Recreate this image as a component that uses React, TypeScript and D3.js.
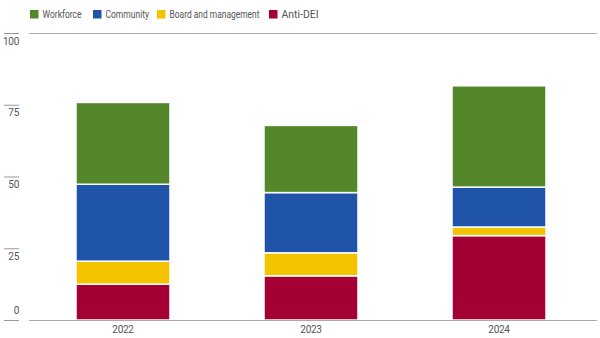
import React from "react";
import * as d3 from "d3";

const years = ["2022", "2023", "2024"];
const seriesNames = ["Anti-DEI", "Board and management", "Community", "Workforce"];
const antiDEI = [12.5, 15.4, 29.4];
const board = [8, 8, 3];
const community = [26.8, 21, 13.9];
const workforce = [28.5, 23.4, 35.3];
const legendOrder = ["Workforce", "Community", "Board and management", "Anti-DEI"];
const colors: Record<string, string> = {
  Workforce: "#53872a",
  Community: "#1f54a9",
  "Board and management": "#f3c300",
  "Anti-DEI": "#a30034",
};
const yTicks = [0, 25, 50, 75, 100];

const W = 600;
const H = 338;
const FONT = "Roboto, 'Liberation Sans', sans-serif";
const legendX = [30, 93, 157, 269];
const legendTextW = [39, 43.5, 90, 37];

export default function App() {
  const rows = years.map((y, i) => ({
    year: y,
    "Anti-DEI": antiDEI[i],
    "Board and management": board[i],
    Community: community[i],
    Workforce: workforce[i],
  }));
  const stack = d3.stack<any>().keys(seriesNames);
  const series = stack(rows);

  const x = d3.scaleBand().domain(years).range([29, 593]).paddingInner(0.5).paddingOuter(0.25);
  const y = d3.scaleLinear().domain([0, 100]).range([320, 33]);

  return (
    <svg width={W} height={H} style={{ position: "absolute", left: 0, top: 0, background: "#fff" }} fontFamily={FONT}>
      {legendOrder.map((name, i) => (
        <g key={name} transform={`translate(${legendX[i]},10)`}>
          <rect width={8.5} height={8.5} fill={colors[name]} />
          <text x={12.5} y={8} fontSize={10.5} fill="#555" textLength={legendTextW[i]} lengthAdjust="spacingAndGlyphs">{name}</text>
        </g>
      ))}
      {yTicks.map((t) => (
        <g key={t}>
          <line x1={4} x2={19} y1={y(t) + 0.5} y2={y(t) + 0.5} stroke="#999" strokeWidth={1} />
          <text x={19} y={t === 0 ? y(t) - 6 : y(t) + 11.5} textAnchor="end" fontSize={10} fill="#555" letterSpacing={-0.3}>{t}</text>
        </g>
      ))}
      <line x1={29} x2={597} y1={y(100) + 0.5} y2={y(100) + 0.5} stroke="#aaa" strokeWidth={1} />
      {series.map((s) => (
        <g key={s.key} fill={colors[s.key]}>
          {s.map((d: any) => (
            <rect
              key={d.data.year}
              x={x(d.data.year)}
              width={x.bandwidth()}
              y={y(d[1])}
              height={y(d[0]) - y(d[1])}
              stroke="#fff"
              strokeWidth={1.5}
            />
          ))}
        </g>
      ))}
      <line x1={29} x2={597} y1={y(0) + 0.5} y2={y(0) + 0.5} stroke="#aaa" strokeWidth={1} />
      {years.map((yr) => (
        <text key={yr} x={(x(yr) as number) + x.bandwidth() / 2} y={333} textAnchor="middle" fontSize={10} fill="#555" letterSpacing={-0.3}>{yr}</text>
      ))}
    </svg>
  );
}
